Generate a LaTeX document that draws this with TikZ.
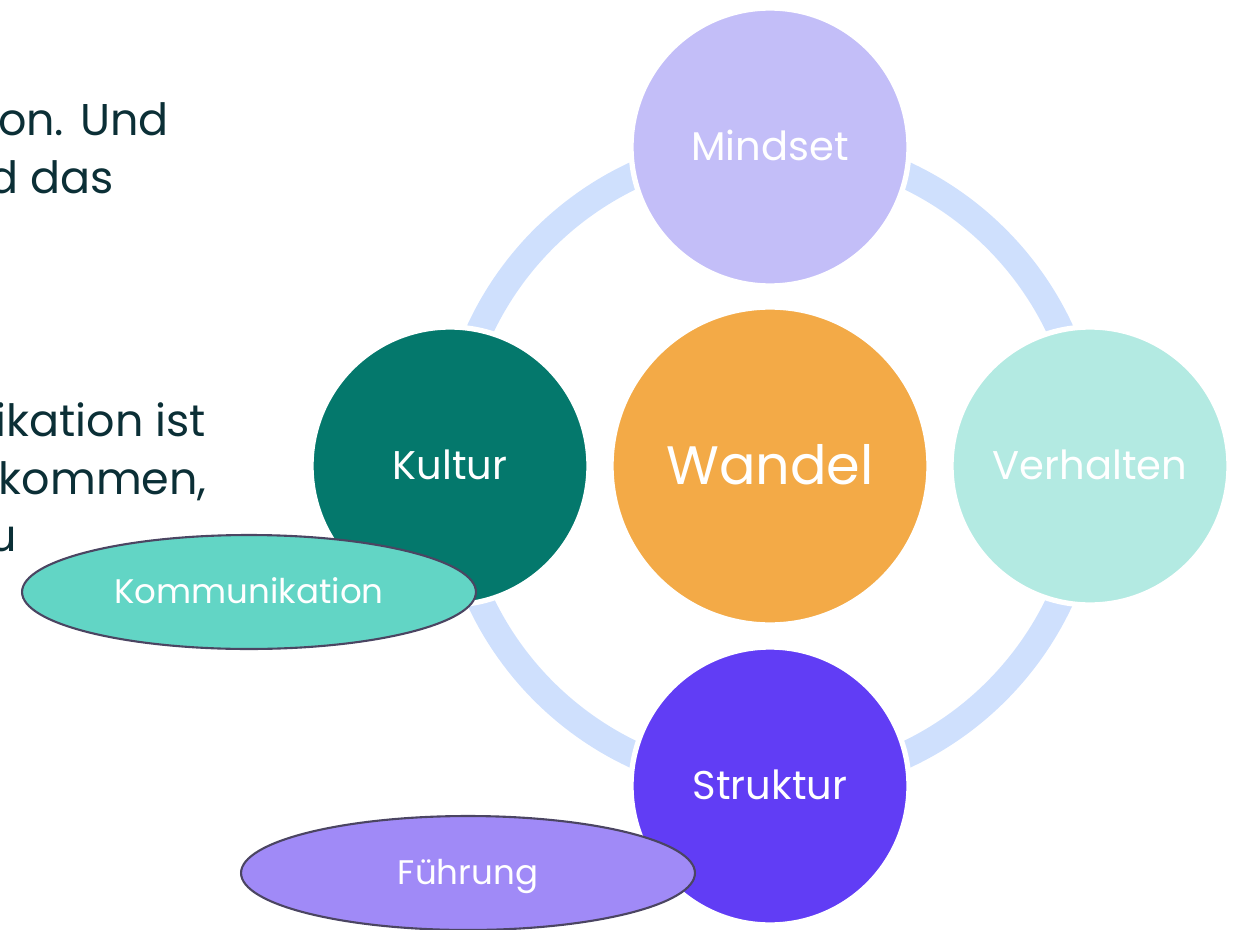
\documentclass[tikz,border=0pt]{standalone}
\usepackage{fontspec}
\setmainfont{Poppins}
\usetikzlibrary{shapes.geometric}
\usetikzlibrary{positioning}
\definecolor{ringblue}{HTML}{CFE0FD}
\definecolor{mindsetlila}{HTML}{C3BEF8}
\definecolor{kulturteal}{HTML}{04786C}
\definecolor{wandelorange}{HTML}{F3AA47}
\definecolor{verhaltenmint}{HTML}{B3EAE2}
\definecolor{strukturviolett}{HTML}{613DF5}
\definecolor{kommtuerkis}{HTML}{62D5C5}
\definecolor{fuehrunglila}{HTML}{A08AF7}
\definecolor{randgrau}{HTML}{4B4562}
\definecolor{textdunkel}{HTML}{0B2F36}

\begin{document}
\begin{tikzpicture}[x=0.02cm, y=-0.02cm,
    bubble/.style={circle, draw=white, line width=3pt, inner sep=0pt,
      minimum size=5.56cm, text=white, text height=15.5pt, text depth=0pt,
      font=\fontsize{22.8}{26}\selectfont},
    tag/.style={ellipse, draw=randgrau, line width=1.2pt, inner sep=0pt,
      minimum width=9.08cm, minimum height=2.28cm, text=white,
      text height=13.2pt, text depth=0pt,
      font=\fontsize{19.4}{22}\selectfont},
    sidetext/.style={anchor=base east, inner sep=0pt, text=textdunkel,
      font=\fontsize{25.3}{30}\selectfont}]
  \useasboundingbox (0,0) rectangle (1243,929);
  \clip (0,0) rectangle (1243,929);

  % cut-off text on the left
  \node[sidetext] (zeileA) at (169,136) {on. Und};
  \node[sidetext] (zeileB) at (114,194) {d das};
  \node[sidetext] (zeileC) at (206,436) {ikation ist};
  \node[sidetext] (zeileD) at (207,494) {kommen,};
  \node[sidetext] (zeileE) at (17,551) {u};

  % ring
  \draw[ringblue, line width=15.3pt] (770,465) circle (320);

  % circles
  \node[bubble, fill=mindsetlila] (mindset) at (770,147) {Mindset};
  \node[bubble, fill=kulturteal] (kultur) at (450,466) {Kultur};
  \node[bubble, fill=verhaltenmint] (verhalten) at (1090,466) {Verhalten};
  \node[bubble, fill=strukturviolett] (struktur) at (770,786) {Struktur};
  \node[bubble, fill=wandelorange, minimum size=6.36cm, text height=21pt,
    font=\fontsize{30.8}{36}\selectfont] (wandel) at (770,466) {Wandel};

  % ellipses
  \node[tag, fill=kommtuerkis] (kommunikation) at (249,592) {Kommunikation};
  \node[tag, fill=fuehrunglila] (fuehrung) at (468,873) {Führung};
\end{tikzpicture}
\end{document}
